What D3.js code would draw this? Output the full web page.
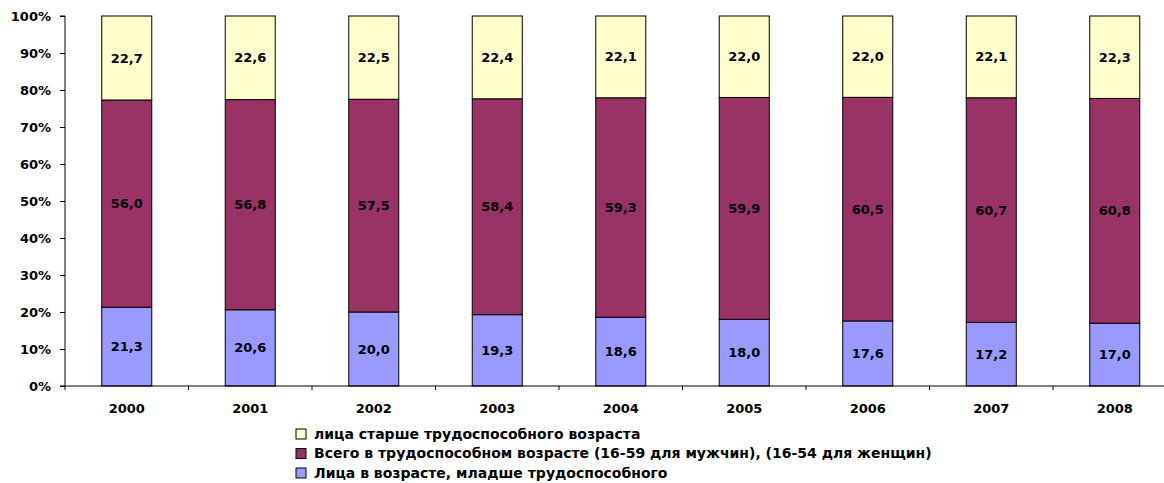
<!DOCTYPE html>
<html>
<head>
<meta charset="utf-8">
<script src="https://cdn.jsdelivr.net/npm/d3@7"></script>
<style>
  body { margin: 0; background: #fff; }
  svg text { font-family: "DejaVu Sans", Verdana, sans-serif; font-weight: bold; fill: #000; }
</style>
</head>
<body>
<svg id="chart" width="1164" height="483"></svg>
<script>
// data
const years = ['2000', '2001', '2002', '2003', '2004', '2005', '2006', '2007', '2008'];
const younger = [21.3, 20.6, 20.0, 19.3, 18.6, 18.0, 17.6, 17.2, 17.0];
const working = [56.0, 56.8, 57.5, 58.4, 59.3, 59.9, 60.5, 60.7, 60.8];
const older = [22.7, 22.6, 22.5, 22.4, 22.1, 22.0, 22.0, 22.1, 22.3];
const seriesNames = [
  'Лица в возрасте, младше трудоспособного',
  'Всего в трудоспособном возрасте (16-59 для мужчин), (16-54 для женщин)',
  'лица старше трудоспособного возраста',
];
const yTicks = [0, 0.1, 0.2, 0.3, 0.4, 0.5, 0.6, 0.7, 0.8, 0.9, 1];

const colors = ['#9999FF', '#993366', '#FFFFCC'];
const svg = d3.select('#chart');
const margin = { top: 16, left: 65, bottom: 97 };
const height = 483 - margin.top - margin.bottom;
const step = 123.5;
const plotW = step * years.length;

const rows = years.map((y, i) => ({ year: y, s0: younger[i], s1: working[i], s2: older[i] }));
const keys = ['s0', 's1', 's2'];
const stack = d3.stack().keys(keys).offset(d3.stackOffsetExpand);
const layers = stack(rows);

const x = d3.scaleBand().domain(years).range([0, plotW]).paddingInner(0.595).paddingOuter(0.2975);
const y = d3.scaleLinear().domain([0, 1]).range([height, 0]);

const g = svg.append('g').attr('transform', `translate(${margin.left},${margin.top})`);

const layer = g.selectAll('.layer')
  .data(layers)
  .enter()
  .append('g')
  .attr('class', 'layer')
  .attr('fill', (d, i) => colors[i]);

layer.selectAll('rect')
  .data(d => d)
  .enter()
  .append('rect')
  .attr('x', d => x(d.data.year))
  .attr('y', d => y(d[1]))
  .attr('width', x.bandwidth())
  .attr('height', d => y(d[0]) - y(d[1]))
  .attr('stroke', '#000')
  .attr('stroke-width', 1);

const vals = [younger, working, older];
layer.selectAll('text')
  .data((d, li) => d.map((p, i) => ({ p, v: vals[li][i] })))
  .enter()
  .append('text')
  .attr('x', d => x(d.p.data.year) + x.bandwidth() / 2)
  .attr('y', d => (y(d.p[0]) + y(d.p[1])) / 2)
  .attr('dy', '0.35em')
  .attr('text-anchor', 'middle')
  .attr('font-size', '13px')
  .text(d => d.v.toFixed(1).replace('.', ','));

// y axis
const yAxis = g.append('g')
  .call(d3.axisLeft(y).tickValues(yTicks).tickFormat(d3.format('.0%')).tickSize(5).tickPadding(9));
yAxis.select('.domain').attr('d', `M-5,${height}H0V0H-5`);
yAxis.selectAll('text').attr('font-size', '13px');

// x axis with ticks on category boundaries
const xAxisG = g.append('g').attr('transform', `translate(0,${height})`);
xAxisG.append('line')
  .attr('x1', 0).attr('x2', plotW)
  .attr('stroke', '#000');
xAxisG.selectAll('.tick')
  .data(d3.range(years.length + 1))
  .enter()
  .append('line')
  .attr('x1', i => i * step).attr('x2', i => i * step)
  .attr('y1', 0).attr('y2', 4)
  .attr('stroke', '#000');
xAxisG.selectAll('.lbl')
  .data(years)
  .enter()
  .append('text')
  .attr('x', d => x(d) + x.bandwidth() / 2)
  .attr('y', 27)
  .attr('text-anchor', 'middle')
  .attr('font-size', '13px')
  .text(d => d);

// legend, top entry = top series
const legend = svg.append('g').attr('transform', 'translate(296,434)');
const legendOrder = [2, 1, 0];
const item = legend.selectAll('.item')
  .data(legendOrder)
  .enter()
  .append('g')
  .attr('transform', (d, i) => `translate(0,${i * 19.5})`);
item.append('rect')
  .attr('x', 0).attr('y', -5)
  .attr('width', 10).attr('height', 10)
  .attr('fill', d => colors[d])
  .attr('stroke', '#000');
item.append('text')
  .attr('x', 18)
  .attr('dy', '0.35em')
  .attr('font-size', '14px')
  .text(d => seriesNames[d]);
</script>
</body>
</html>
